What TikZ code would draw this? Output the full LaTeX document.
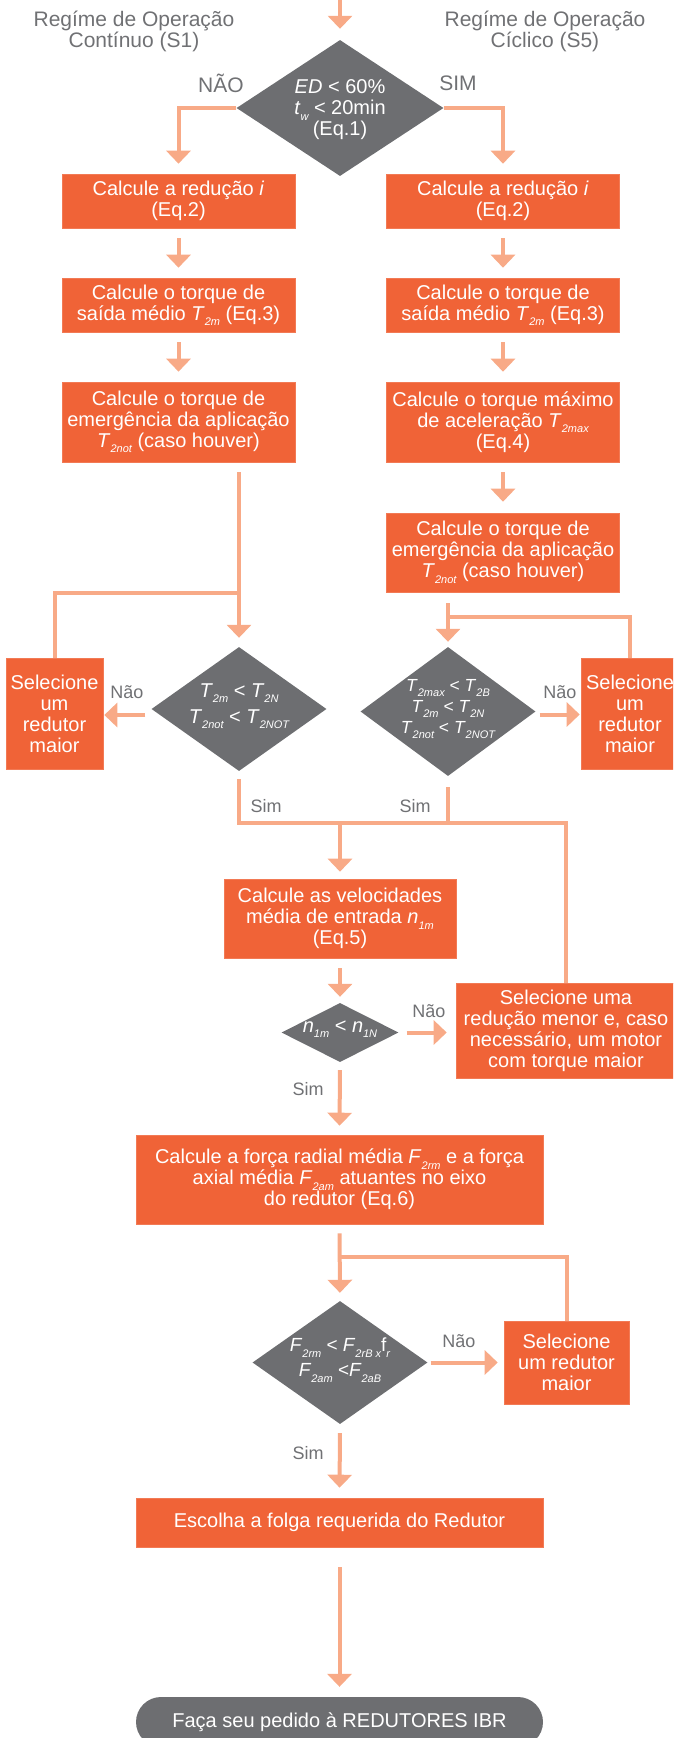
\documentclass[tikz,border=0pt]{standalone}
\usepackage{fontspec}
\setmainfont{Liberation Sans}
\usetikzlibrary{arrows.meta,shapes.geometric,calc}
\definecolor{boxC}{RGB}{240,99,55}
\definecolor{lineC}{RGB}{248,170,135}
\definecolor{diaC}{RGB}{109,110,113}
\definecolor{labC}{RGB}{112,113,116}
\newcommand\lsub[1]{\raisebox{-5.5pt}{\fontsize{11}{12}\selectfont\itshape #1}}
\begin{document}
\begin{tikzpicture}[x=1pt,y=-1pt,
  box/.style={rectangle, fill=boxC, draw=boxC!85!white, line width=0.6pt, text=white, align=center, inner sep=0pt, font=\fontsize{20}{21}\selectfont},
  dia/.style={diamond, fill=diaC, inner sep=0pt},
  dtext/.style={text=white, align=center, inner sep=0pt, font=\fontsize{20}{21}\selectfont},
  lab/.style={text=labC, inner sep=0pt, font=\fontsize{18}{20}\selectfont},
  hdr/.style={text=labC, align=center, inner sep=0pt, font=\fontsize{21}{21}\selectfont},
  conn/.style={draw=lineC, line width=4pt},
  arr/.style={conn, -{Triangle[width=24pt,length=13pt]}},
]
\useasboundingbox (0,0) rectangle (673,1738);
\clip (0,0) rectangle (673,1738);

% headers
\node[hdr] (hL) at (134,31) {Regíme de Operação\\Contínuo (S1)};
\node[hdr] (hR) at (545,31) {Regíme de Operação\\Cíclico (S5)};

% first decision
\coordinate (top) at (340,0);
\node[dia, minimum width=207pt, minimum height=136pt] (d1) at (340,108) {};
\node[dtext] (t1) at (340,110) {\textit{ED} < 60\%\\\textit{t}\lsub{w} < 20min\\(Eq.1)};
\node[lab, font=\fontsize{21}{21}\selectfont] (nao1) at (221,83) {NÃO};
\node[lab, font=\fontsize{21}{21}\selectfont] (sim1) at (458,83) {SIM};

% columns
\node[box, minimum width=233pt, minimum height=54pt] (bL1) at (178.5,201) {Calcule a redução \textit{i}\\(Eq.2)};
\node[box, minimum width=233pt, minimum height=54pt] (bR1) at (503,201) {Calcule a redução \textit{i}\\(Eq.2)};
\node[box, minimum width=233pt, minimum height=54pt] (bL2) at (178.5,305) {Calcule o torque de\\saída médio \textit{T}\lsub{2m} (Eq.3)};
\node[box, minimum width=233pt, minimum height=54pt] (bR2) at (503,305) {Calcule o torque de\\saída médio \textit{T}\lsub{2m} (Eq.3)};
\node[box, minimum width=233pt, minimum height=80pt] (bL3) at (178.5,422) {Calcule o torque de\\emergência da aplicação\\\textit{T}\lsub{2not} (caso houver)};
\node[box, minimum width=233pt, minimum height=80pt] (bR3) at (503,422) {Calcule o torque máximo\\de aceleração \textit{T}\lsub{2max}\\(Eq.4)};
\node[box, minimum width=233pt, minimum height=79pt] (bR4) at (503,552.5) {Calcule o torque de\\emergência da aplicação\\\textit{T}\lsub{2not} (caso houver)};

% second decisions
\node[dia, minimum width=175pt, minimum height=124pt] (dL) at (239,709) {};
\node[dtext] (tL) at (239,706) {\textit{T}\lsub{2m} < \textit{T}\lsub{2N}\\[5pt]\textit{T}\lsub{2not} < \textit{T}\lsub{2NOT}};
\node[dia, minimum width=175pt, minimum height=129pt] (dR) at (448,711.5) {};
\node[dtext, font=\fontsize{17.5}{21}\selectfont] (tR) at (448,709) {\textit{T}\lsub{2max} < \textit{T}\lsub{2B}\\\textit{T}\lsub{2m} < \textit{T}\lsub{2N}\\\textit{T}\lsub{2not} < \textit{T}\lsub{2NOT}};
\node[box, minimum width=97pt, minimum height=111pt] (sL) at (54.5,713.5) {Selecione\\um\\redutor\\maior};
\node[box, minimum width=98pt, minimum height=111pt] (sR) at (630,713.5) {Selecione\\um\\redutor\\maior};
\node[lab] (naoL) at (127,692) {Não};
\node[lab] (naoR) at (560,692) {Não};
\node[lab] (simL) at (266,806) {Sim};
\node[lab] (simR) at (415,806) {Sim};
\coordinate (jL) at (239,593);
\coordinate (jR) at (448,617);
\coordinate (mC) at (340,823);
\coordinate (mE) at (566,823);

% speed
\node[box, minimum width=232pt, minimum height=79pt] (bV) at (340,918.5) {Calcule as velocidades\\média de entrada \textit{n}\lsub{1m}\\(Eq.5)};
\node[dia, minimum width=117pt, minimum height=59pt] (dN) at (340,1032.5) {};
\node[dtext] (tN) at (340,1029) {\textit{n}\lsub{1m} < \textit{n}\lsub{1N}};
\node[box, minimum width=220pt, minimum height=95pt] (sU) at (566,1030.5) {Selecione uma\\redução menor e, caso\\necessário, um motor\\com torque maior};
\node[lab] (naoN) at (429,1011) {Não};
\node[lab] (simN) at (308,1089) {Sim};

% forces
\node[box, minimum width=407pt, minimum height=89pt] (bF) at (339.5,1179.5) {Calcule a força radial média \textit{F}\lsub{2rm} e a força\\axial média \textit{F}\lsub{2am} atuantes no eixo\\do redutor (Eq.6)};
\coordinate (jF) at (340,1257);
\node[dia, minimum width=175pt, minimum height=123pt] (dF) at (340,1362.5) {};
\node[dtext, font=\fontsize{19}{25}\selectfont] (tF) at (340,1360) {\textit{F}\lsub{2rm} < \textit{F}\lsub{2rB x}f\lsub{r}\\\textit{F}\lsub{2am} <\textit{F}\lsub{2aB}};
\node[box, minimum width=125pt, minimum height=83pt] (sF) at (566.5,1362.5) {Selecione\\um redutor\\maior};
\node[lab] (naoF) at (459,1341) {Não};
\node[lab] (simF) at (308,1453) {Sim};

% end
\node[box, minimum width=407pt, minimum height=49pt] (bE) at (339.5,1522.5) {Escolha a folga requerida do Redutor};
\node[rectangle, rounded corners=25pt, fill=diaC, text=white, inner sep=0pt, minimum width=407pt, minimum height=50pt, font=\fontsize{20}{21}\selectfont] (pill) at (339.5,1722) {Faça seu pedido à REDUTORES IBR};

% connectors
\draw[arr, shorten >=11pt] (top) -- (d1.north);
\draw[arr, shorten >=10pt] (d1.west) -| (bL1.north);
\draw[arr, shorten >=10pt] (d1.east) -| (bR1.north);
\draw[arr, shorten <=10pt, shorten >=10pt] (bL1.south) -- (bL2.north);
\draw[arr, shorten <=10pt, shorten >=10pt] (bL2.south) -- (bL3.north);
\draw[arr, shorten <=10pt, shorten >=10pt] (bR1.south) -- (bR2.north);
\draw[arr, shorten <=10pt, shorten >=10pt] (bR2.south) -- (bR3.north);
\draw[arr, shorten <=10pt, shorten >=11pt] (bR3.south) -- (bR4.north);
\draw[arr, shorten <=10pt, shorten >=9pt] (bL3.south -| dL.north) -- (dL.north);
\draw[conn] (sL.north) |- (jL);
\draw[arr, shorten <=11pt, shorten >=5pt] (bR4.south -| dR.north) -- (dR.north);
\draw[conn] (sR.north) |- (jR);
\draw[arr, shorten <=6pt, shorten >=1pt] ($(dL.west)+(0,6)$) -- ($(dL.west -| sL.east)+(0,6)$);
\draw[arr, shorten <=4pt, shorten >=1pt] ($(dR.east)+(0,3)$) -- ($(dR.east -| sR.west)+(0,3)$);
\draw[conn, shorten <=8pt] (dL.south) |- (mE) -- (sU.north);
\draw[conn, shorten <=11pt] (dR.south) -- (dR.south |- mE);
\draw[arr, shorten >=7pt] (mC) -- (bV.north);
\draw[arr, shorten <=10pt, shorten >=6pt] (bV.south) -- (dN.north);
\draw[arr, shorten <=8pt, shorten >=9pt] (dN.east) -- (dN.east -| sU.west);
\draw[arr, shorten <=8pt, shorten >=9pt] (dN.south) -- (bF.north);
\draw[arr, shorten <=9pt, shorten >=8pt] (bF.south) -- (dF.north);
\draw[conn] (sF.north) |- (jF);
\draw[arr, shorten <=3pt, shorten >=6pt] (dF.east) -- (sF.west);
\draw[arr, shorten <=9pt, shorten >=10pt] (dF.south) -- (bE.north);
\draw[arr, shorten <=20pt, shorten >=10pt] (bE.south) -- (pill.north);
\end{tikzpicture}
\end{document}
